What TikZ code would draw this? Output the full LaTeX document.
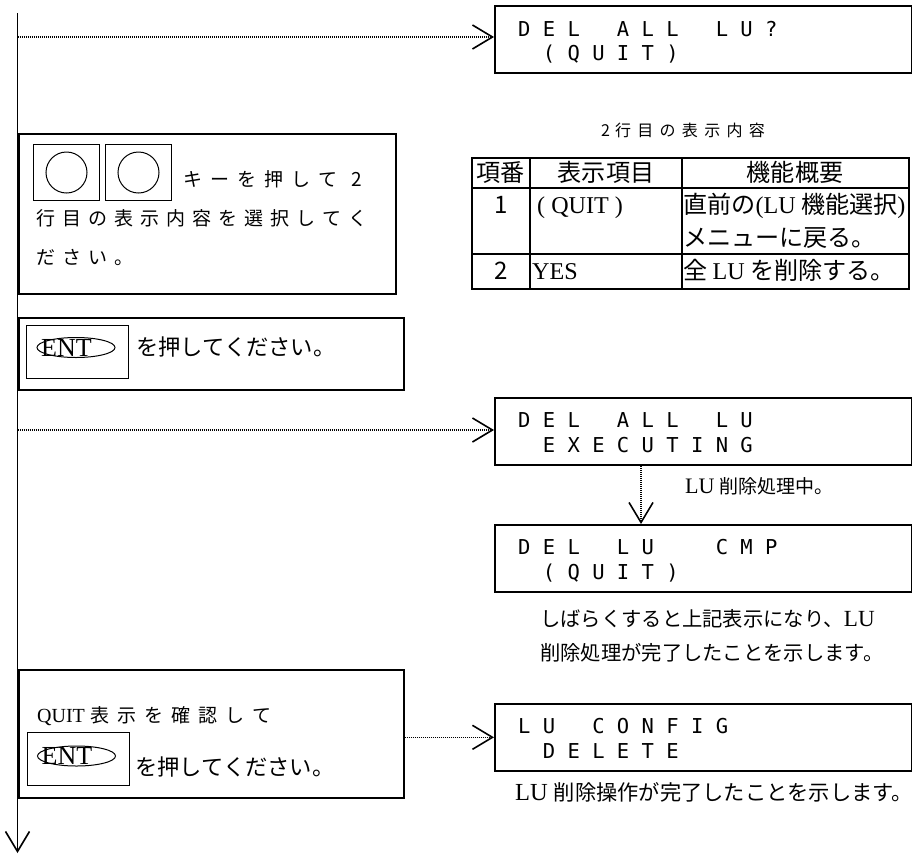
\documentclass[tikz,border=0pt]{standalone}
\usepackage{fontspec}
\usepackage{graphicx}
\setmainfont{Noto Sans CJK JP}
\newfontfamily\tm{Liberation Serif}
\newfontfamily\dmono{DejaVu Sans Mono}
\font\jpA="Noto Sans CJK JP" at 19pt
\font\jpT="Noto Sans CJK JP" at 16pt
\font\tmA="Liberation Serif" at 20pt
\usetikzlibrary{arrows.meta,shapes.geometric}
\newcommand\fsz[1]{\fontsize{#1pt}{#1pt}\selectfont}
\newdimen\cellw
\def\cellgo#1{\ifx#1\relax\else\makebox[\cellw][l]{#1}\expandafter\cellgo\fi}
\newcommand\cells[2]{{\cellw=#1\relax\cellgo#2\relax}}
\begin{document}
\begin{tikzpicture}[x=1pt,y=-1pt,
  frame/.style={draw, line width=1.6pt, rectangle, inner sep=0pt, anchor=north west},
  disp/.style={frame, minimum width=417pt, minimum height=67pt},
  keysq/.style={draw, line width=1pt, rectangle, inner sep=0pt, anchor=north west},
  keyc/.style={draw, line width=1pt, circle, inner sep=0pt, minimum size=41pt},
  oval/.style={draw, line width=1pt, ellipse, inner sep=0pt, minimum width=78pt, minimum height=20pt},
  enttxt/.style={inner sep=0pt, anchor=base, font=\tm\fsz{26}},
  lcd/.style={anchor=base west, inner sep=0pt, font=\dmono\fsz{20.5}},
  txt/.style={anchor=base west, inner sep=0pt},
  ctxt/.style={anchor=base, inner sep=0pt},
  flow/.style={line width=1.6pt},
  tline/.style={line width=2pt},
  dotl/.style={line width=1.2pt, dash pattern=on 1pt off 1pt},
  vtip/.style={-{Straight Barb[length=20pt,width=24pt,line width=1.6pt]}}
]
\useasboundingbox (0,0) rectangle (912,857);

% main flow line
\coordinate (ftop) at (17.5,13);
\coordinate (fbot) at (17.5,853);
\draw[flow,vtip] (ftop) -- (fbot);

% display 1
\node[disp] (d1) at (494,5) {};
\node[lcd] (d1a) at (518,36) {\cells{24.7pt}{DEL~ALL~LU?}};
\node[lcd] (d1b) at (542.7,60) {\cells{24.7pt}{(QUIT)}};
\coordinate (s1) at (17.5,37);
\draw[dotl,vtip] (s1) -- (s1 -| d1.west);

% key box
\node[frame, minimum width=377pt, minimum height=160pt] (kbox) at (18,133) {};
\node[keysq, minimum width=66pt, minimum height=56pt] (sq1) at (33,144) {};
\node[keysq, minimum width=66pt, minimum height=56pt] (sq2) at (105,144) {};
\node[keyc] (c1) at (sq1.center) {};
\node[keyc] (c2) at (sq2.center) {};
\node[txt] (kt1) at (183,186) {\jpA\cells{27pt}{キーを押して}\hspace{6pt}2};
\node[txt] (kt2) at (36,225) {\jpA\cells{26pt}{行目の表示内容を選択してく}};
\node[txt] (kt3) at (36,264) {\jpA\cells{26pt}{ださい。}};

% table
\node[txt] (tt) at (601,136) {\jpT 2\hspace{5pt}\cells{22.3pt}{行目の表示内容}};
\node[frame, line width=2pt, minimum width=437pt, minimum height=131pt] (tbl) at (471,157) {};
\coordinate (tc1) at (530,157);
\coordinate (tc2) at (682,157);
\coordinate (tr1) at (471,188);
\coordinate (tr2) at (471,254);
\draw[tline] (tc1) -- (tc1 |- tbl.south);
\draw[tline] (tc2) -- (tc2 |- tbl.south);
\draw[tline] (tr1) -- (tr1 -| tbl.east);
\draw[tline] (tr2) -- (tr2 -| tbl.east);
\node[ctxt] (h1) at (500.5,181) {\fsz{24.1}項番};
\node[ctxt] (h2) at (606,181) {\fsz{24.1}表示項目};
\node[ctxt] (h3) at (795,181) {\fsz{24.1}機能概要};
\node[ctxt] (r1a) at (501,213) {\fsz{24.1}1};
\node[txt] (r1b) at (537,213) {\tm\fsz{24.1}( QUIT )};
\node[txt] (r1c) at (683,213) {\fsz{24.1}直前の{\tm (LU} 機能選択{\tm )}};
\node[txt] (r1d) at (683,246) {\fsz{24.1}メニューに戻る。};
\node[ctxt] (r2a) at (501,279) {\fsz{24.1}2};
\node[txt] (r2b) at (532,279) {\tm\fsz{24.1}YES};
\node[txt] (r2c) at (683,279) {\fsz{24.1}全 {\tm LU} を削除する。};

% ENT box
\node[frame, minimum width=385pt, minimum height=72pt] (ebox) at (18,317) {};
\node[keysq, minimum width=102pt, minimum height=53pt] (esq) at (26,325) {};
\node[oval] (eov) at (76,347.5) {};
\node[enttxt] (ent) at (66.5,356) {ENT};
\node[txt] (et) at (136,355) {\fsz{22.3}を押してください。};

% display 2
\node[disp] (d2) at (494,397) {};
\node[lcd] (d2a) at (518,427) {\cells{24.7pt}{DEL~ALL~LU}};
\node[lcd] (d2b) at (542.7,452) {\cells{24.7pt}{EXECUTING}};
\coordinate (s2) at (17.5,430);
\draw[dotl,vtip] (s2) -- (s2 -| d2.west);
\node[txt] (cap1) at (685,493) {{\tm\fsz{22.1}LU}\hspace{5pt}\scalebox{1.9}{\fsz{10}削除処理中。}};

% display 3
\node[disp] (d3) at (494,524) {};
\node[lcd] (d3a) at (518,554) {\cells{24.7pt}{DEL~LU~~CMP}};
\node[lcd] (d3b) at (542.7,579) {\cells{24.7pt}{(QUIT)}};
\coordinate (s3) at (641,464);
\draw[dotl,vtip] (s3) -- (s3 |- d3.north);
\node[txt] (cap2) at (540,626) {\fsz{20.3}しばらくすると上記表示になり、{\tm\fsz{23.1}LU}};
\node[txt] (cap3) at (540,660) {\fsz{20.3}削除処理が完了したことを示します。};

% QUIT box
\node[frame, minimum width=385pt, minimum height=128pt] (qbox) at (18,669) {};
\node[txt] (qt1) at (37,722) {{\tmA QUIT}\hspace{6pt}{\jpA\cells{27pt}{表示を確認して}}};
\node[keysq, minimum width=102pt, minimum height=53pt] (qsq) at (27,732) {};
\node[oval] (qov) at (76.5,756) {};
\node[enttxt] (qent) at (67,764.5) {ENT};
\node[txt] (qt2) at (135,775) {\fsz{22.3}を押してください。};

% display 4
\node[disp] (d4) at (494,703) {};
\node[lcd] (d4a) at (518,733) {\cells{24.7pt}{LU~CONFIG}};
\node[lcd] (d4b) at (542.7,758) {\cells{24.7pt}{DELETE}};
\draw[dotl,vtip] (qbox.east |- d4.west) -- (d4.west);
\node[txt] (cap4) at (515,800) {{\tm\fsz{24.5}LU}\hspace{6pt}{\fsz{21.25}削除操作が完了したことを示します。}};
\end{tikzpicture}
\end{document}
